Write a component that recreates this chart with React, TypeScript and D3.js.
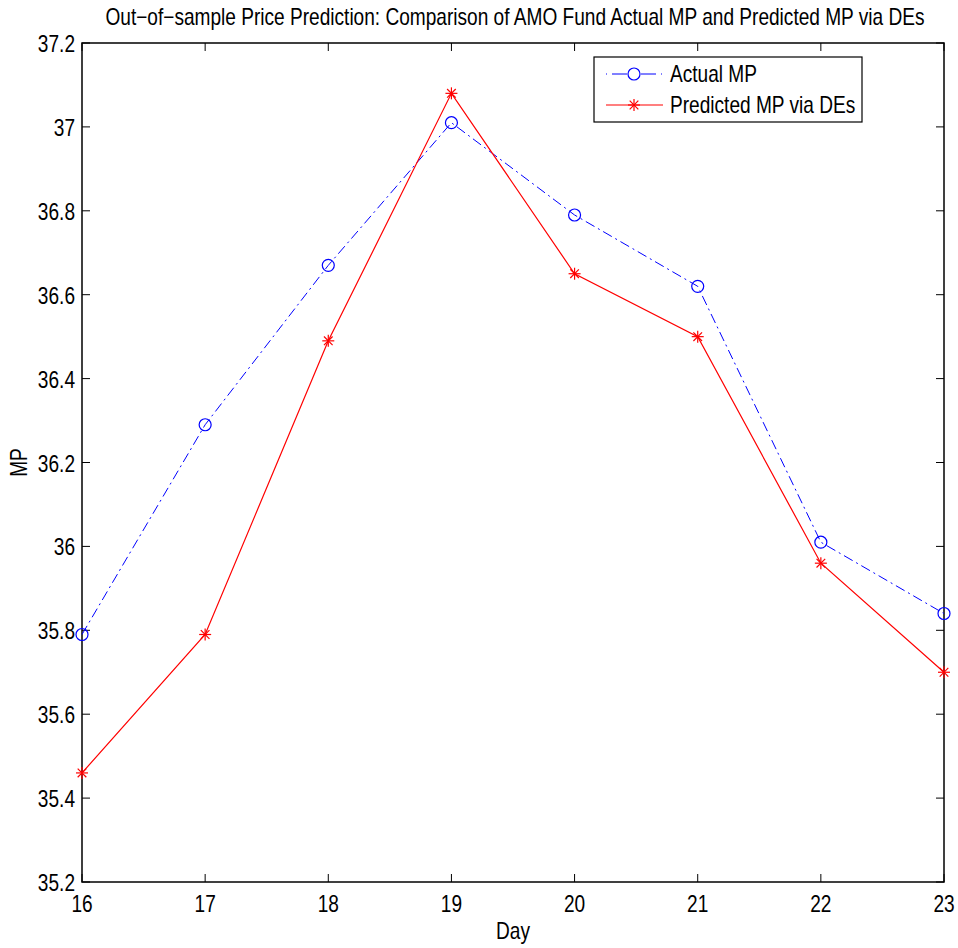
import React, { useEffect, useRef } from "react";
import * as d3 from "d3";

const days = [16, 17, 18, 19, 20, 21, 22, 23];
const actualMP = [35.79, 36.29, 36.67, 37.01, 36.79, 36.62, 36.01, 35.84];
const predictedMP = [35.46, 35.79, 36.49, 37.08, 36.65, 36.5, 35.96, 35.7];
const yTicks = [35.2, 35.4, 35.6, 35.8, 36, 36.2, 36.4, 36.6, 36.8, 37, 37.2];

const width = 958;
const height = 948;
const margin = { left: 82, right: 14, top: 43, bottom: 66 };
const font = "'Liberation Sans', Arial, sans-serif";

// the original text is tall and narrow, so squeeze a bigger font sideways
const label = (sel: any, x: number, y: number, text: string, anchor = "start", size = 23) =>
  sel
    .append("text")
    .attr("transform", `translate(${x},${y}) scale(0.83,1)`)
    .attr("text-anchor", anchor)
    .attr("font-family", font)
    .attr("font-size", size)
    .attr("fill", "#000")
    .text(text);

const App = () => {
  const ref = useRef<SVGSVGElement>(null);

  useEffect(() => {
    const svg = d3.select(ref.current);
    svg.selectAll("*").remove();

    const x = d3.scaleLinear().domain([16, 23]).range([margin.left, width - margin.right]);
    const y = d3.scaleLinear().domain([35.2, 37.2]).range([height - margin.bottom, margin.top]);
    const [x0, x1] = x.range();
    const [y0, y1] = y.range();

    svg.append("rect").attr("width", width).attr("height", height).attr("fill", "#fff");

    // ticks (inside, on all four sides)
    const g = svg.append("g").attr("stroke", "#000").attr("stroke-width", 1);
    days.forEach((d) => {
      g.append("line").attr("x1", x(d)).attr("x2", x(d)).attr("y1", y0).attr("y2", y0 - 8);
      g.append("line").attr("x1", x(d)).attr("x2", x(d)).attr("y1", y1).attr("y2", y1 + 8);
    });
    yTicks.forEach((t) => {
      g.append("line").attr("x1", x0).attr("x2", x0 + 8).attr("y1", y(t)).attr("y2", y(t));
      g.append("line").attr("x1", x1).attr("x2", x1 - 8).attr("y1", y(t)).attr("y2", y(t));
    });

    svg
      .append("rect")
      .attr("x", x0)
      .attr("y", y1)
      .attr("width", x1 - x0)
      .attr("height", y0 - y1)
      .attr("fill", "none")
      .attr("stroke", "#000")
      .attr("stroke-width", 1.5);

    const labels = svg.append("g");
    days.forEach((d) => label(labels, x(d), y0 + 30, String(d), "middle"));
    yTicks.forEach((t) => label(labels, x0 - 7, y(t) + 9, d3.format("~g")(t), "end"));

    label(svg, (x0 + x1) / 2, 939, "Day", "middle");
    label(svg, 0, 0, "MP", "middle").attr("transform", `translate(27,${(y0 + y1) / 2}) rotate(-90) scale(0.83,1)`);

    // title: measure, then squeeze to the reference width
    const title = label(
      svg,
      515,
      25,
      "Out\u2212of\u2212sample Price Prediction: Comparison of AMO Fund Actual MP and Predicted MP via DEs",
      "middle"
    );
    const natural = (title.node() as SVGTextElement).getComputedTextLength() || 1000;
    title.attr("transform", `translate(515,25) scale(${Math.min(0.83, 829 / natural)},1)`);

    const line = d3
      .line<number>()
      .x((_, i) => x(days[i]))
      .y((d) => y(d));

    const star = (sel: any, cx: number, cy: number, r: number) => {
      const s = sel.append("g").attr("stroke", "#f00").attr("stroke-width", 1.2);
      s.append("line").attr("x1", cx - r).attr("x2", cx + r).attr("y1", cy).attr("y2", cy);
      s.append("line").attr("x1", cx).attr("x2", cx).attr("y1", cy - r).attr("y2", cy + r);
      const k = r * 0.72;
      s.append("line").attr("x1", cx - k).attr("x2", cx + k).attr("y1", cy - k).attr("y2", cy + k);
      s.append("line").attr("x1", cx - k).attr("x2", cx + k).attr("y1", cy + k).attr("y2", cy - k);
    };

    // actual
    svg
      .append("path")
      .attr("d", line(actualMP))
      .attr("fill", "none")
      .attr("stroke", "#00f")
      .attr("stroke-width", 1)
      .attr("stroke-dasharray", "10,4,2,4");
    svg
      .append("g")
      .selectAll("circle")
      .data(actualMP)
      .join("circle")
      .attr("cx", (_, i) => x(days[i]))
      .attr("cy", (d) => y(d))
      .attr("r", 6)
      .attr("fill", "none")
      .attr("stroke", "#00f")
      .attr("stroke-width", 1.2);

    // predicted
    svg
      .append("path")
      .attr("d", line(predictedMP))
      .attr("fill", "none")
      .attr("stroke", "#f00")
      .attr("stroke-width", 1.2);
    const stars = svg.append("g");
    predictedMP.forEach((d, i) => star(stars, x(days[i]), y(d), 6));

    // legend
    const lg = svg.append("g");
    lg.append("rect")
      .attr("x", 594)
      .attr("y", 57)
      .attr("width", 268)
      .attr("height", 65)
      .attr("fill", "#fff")
      .attr("stroke", "#000")
      .attr("stroke-width", 1.2);
    lg.append("line")
      .attr("x1", 606)
      .attr("x2", 663)
      .attr("y1", 74)
      .attr("y2", 74)
      .attr("stroke", "#00f")
      .attr("stroke-dasharray", "1,5,15,14,15,5,1,50");
    lg.append("circle").attr("cx", 634).attr("cy", 74).attr("r", 6).attr("fill", "#fff").attr("stroke", "#00f").attr("stroke-width", 1.2);
    lg.append("line").attr("x1", 606).attr("x2", 663).attr("y1", 105).attr("y2", 105).attr("stroke", "#f00").attr("stroke-width", 1.2);
    star(lg, 634, 105, 6);
    label(lg, 670, 82, "Actual MP");
    label(lg, 670, 113, "Predicted MP via DEs");
  }, []);

  return (
    <svg
      ref={ref}
      width={width}
      height={height}
      style={{ display: "block", position: "fixed", left: 0, top: 0 }}
    />
  );
};

export default App;
